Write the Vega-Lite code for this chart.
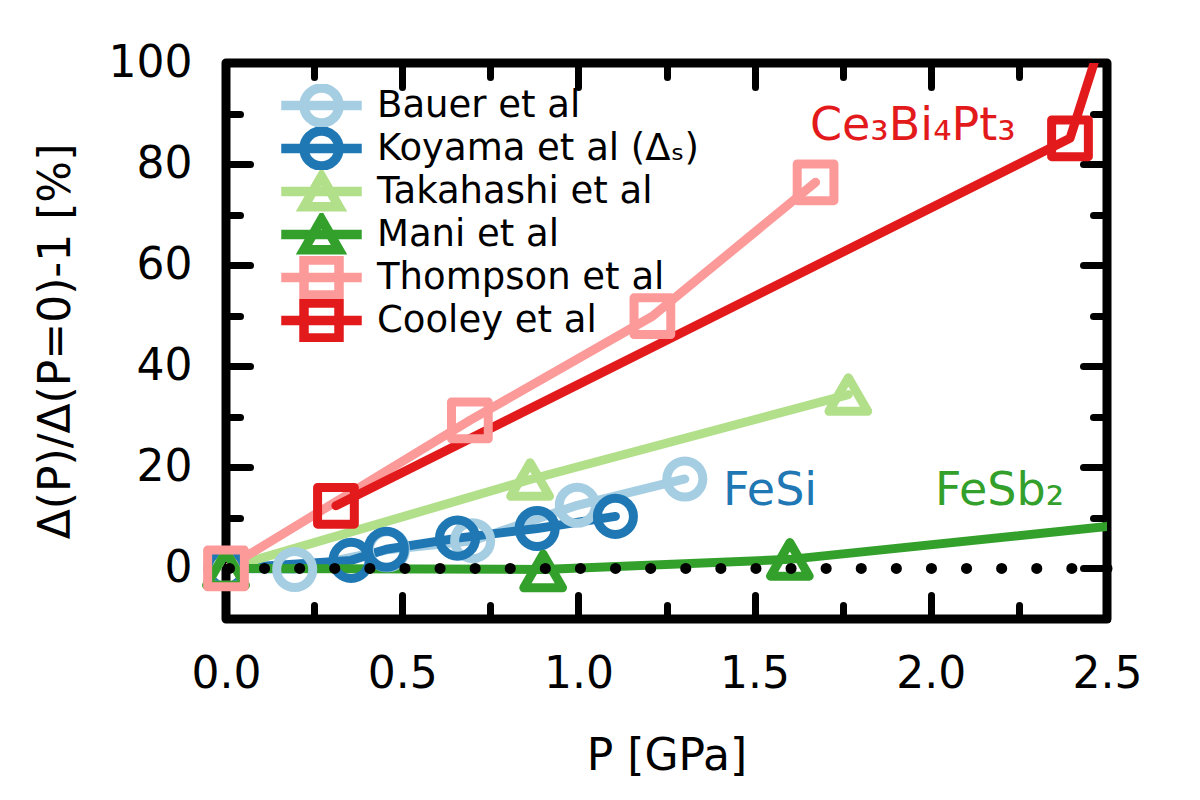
{
  "$schema": "https://vega.github.io/schema/vega-lite/v6.json",
  "width": 881,
  "height": 556,
  "autosize": {"type": "none"},
  "padding": {"left": 226, "top": 63, "right": 93, "bottom": 181},
  "background": "white",
  "config": {
    "view": {"stroke": "black", "strokeWidth": 9, "strokeJoin": "round"},
    "axis": {
      "domain": false, "grid": false, "ticks": true, "labelFlush": false,
      "tickColor": "black", "tickWidth": 7, "tickCap": "round",
      "labelFont": "DejaVu Sans", "labelFontSize": 44, "labelColor": "black",
      "titleFont": "DejaVu Sans", "titleFontSize": 44, "titleFontWeight": "normal", "titleColor": "black"
    },
    "text": {"font": "DejaVu Sans"}
  },
  "datasets": {
    "pts": [
      {"series": "Bauer et al", "P": 0, "v": 0},
      {"series": "Bauer et al", "P": 0.195, "v": -0.2},
      {"series": "Bauer et al", "P": 0.458, "v": 3.7},
      {"series": "Bauer et al", "P": 0.70, "v": 5.5},
      {"series": "Bauer et al", "P": 0.997, "v": 12.5},
      {"series": "Bauer et al", "P": 1.302, "v": 17.7},
      {"series": "Koyama et al (Δₛ)", "P": 0, "v": 0},
      {"series": "Koyama et al (Δₛ)", "P": 0.355, "v": 1.6},
      {"series": "Koyama et al (Δₛ)", "P": 0.455, "v": 3.8},
      {"series": "Koyama et al (Δₛ)", "P": 0.657, "v": 6.0},
      {"series": "Koyama et al (Δₛ)", "P": 0.883, "v": 7.9},
      {"series": "Koyama et al (Δₛ)", "P": 1.105, "v": 10.3},
      {"series": "Takahashi et al", "P": 0, "v": 0},
      {"series": "Takahashi et al", "P": 0.863, "v": 17.6},
      {"series": "Takahashi et al", "P": 1.766, "v": 34.4},
      {"series": "Mani et al", "P": 0, "v": 0},
      {"series": "Mani et al", "P": 0.9, "v": -0.5},
      {"series": "Mani et al", "P": 1.6, "v": 1.8},
      {"series": "Thompson et al", "P": 0, "v": 0},
      {"series": "Thompson et al", "P": 0.692, "v": 29.3},
      {"series": "Thompson et al", "P": 1.21, "v": 49.9},
      {"series": "Thompson et al", "P": 1.673, "v": 76.4},
      {"series": "Cooley et al", "P": 0.312, "v": 12.4},
      {"series": "Cooley et al", "P": 2.395, "v": 85.1}
    ],
    "curves": [
      {"series": "Bauer et al", "P": 0, "v": 0},
      {"series": "Bauer et al", "P": 0.195, "v": -0.2},
      {"series": "Bauer et al", "P": 0.458, "v": 3.7},
      {"series": "Bauer et al", "P": 0.70, "v": 5.5},
      {"series": "Bauer et al", "P": 0.997, "v": 12.5},
      {"series": "Bauer et al", "P": 1.302, "v": 17.7},
      {"series": "Koyama et al (Δₛ)", "P": 0, "v": 0},
      {"series": "Koyama et al (Δₛ)", "P": 0.355, "v": 1.6},
      {"series": "Koyama et al (Δₛ)", "P": 0.455, "v": 3.8},
      {"series": "Koyama et al (Δₛ)", "P": 0.657, "v": 6.0},
      {"series": "Koyama et al (Δₛ)", "P": 0.883, "v": 7.9},
      {"series": "Koyama et al (Δₛ)", "P": 1.105, "v": 10.3},
      {"series": "Takahashi et al", "P": 0, "v": 0},
      {"series": "Takahashi et al", "P": 0.863, "v": 17.6},
      {"series": "Takahashi et al", "P": 1.766, "v": 34.4},
      {"series": "Mani et al", "P": 0, "v": 0},
      {"series": "Mani et al", "P": 0.9, "v": -0.2},
      {"series": "Mani et al", "P": 1.6, "v": 1.8},
      {"series": "Mani et al", "P": 2.5, "v": 8.3},
      {"series": "Thompson et al", "P": 0, "v": 0},
      {"series": "Thompson et al", "P": 0.692, "v": 29.3},
      {"series": "Thompson et al", "P": 1.21, "v": 49.9},
      {"series": "Thompson et al", "P": 1.673, "v": 76.4},
      {"series": "Cooley et al", "P": 0.312, "v": 12.4},
      {"series": "Cooley et al", "P": 2.395, "v": 85.1},
      {"series": "Cooley et al", "P": 2.5, "v": 108}
    ],
    "notes": [
      {"series": "Koyama et al (Δₛ)", "P": 1.41, "v": 12.6, "label": "FeSi"},
      {"series": "Mani et al", "P": 2.012, "v": 12.6, "label": "FeSb₂"},
      {"series": "Cooley et al", "P": 1.657, "v": 84.7, "label": "Ce₃Bi₄Pt₃"}
    ],
    "zero": [{"v": 0}]
  },
  "resolve": {"axis": {"x": "independent", "y": "independent"}, "scale": {"color": "independent", "shape": "independent"}},
  "layer": [
    {
      "data": {"name": "curves"},
      "mark": {"type": "line", "strokeWidth": 9, "strokeCap": "round", "strokeJoin": "round", "clip": true},
      "encoding": {
        "x": {"field": "P", "type": "quantitative",
              "scale": {"domain": [0, 2.5], "nice": false, "zero": false},
              "axis": {"orient": "bottom", "values": [0, 0.5, 1, 1.5, 2, 2.5], "format": ".1f", "tickSize": -24, "labelPadding": 57, "title": "P [GPa]", "titlePadding": 38}},
        "y": {"field": "v", "type": "quantitative",
              "scale": {"domain": [-10, 100], "nice": false, "zero": false},
              "axis": {"orient": "left", "values": [0, 20, 40, 60, 80, 100], "format": "d", "tickSize": -24, "labelPadding": 58, "title": "Δ(P)/Δ(P=0)-1 [%]", "titlePadding": 30}},
        "color": {"field": "series", "type": "nominal", "legend": null,
                  "scale": {"domain": ["Bauer et al", "Koyama et al (Δₛ)", "Takahashi et al", "Mani et al", "Thompson et al", "Cooley et al"],
                            "range": ["#a6cee3", "#1f78b4", "#b2df8a", "#33a02c", "#fb9a99", "#e31a1c"]}},
        "detail": {"field": "series"}
      }
    },
    {
      "data": {"name": "pts"},
      "transform": [{"filter": {"field": "series", "oneOf": ["Bauer et al", "Koyama et al (Δₛ)"]}}],
      "mark": {"type": "point", "shape": "circle", "filled": false, "size": 1300, "strokeWidth": 9, "opacity": 1},
      "encoding": {
        "x": {"field": "P", "type": "quantitative", "axis": null},
        "y": {"field": "v", "type": "quantitative", "axis": null},
        "color": {"field": "series", "type": "nominal", "legend": null,
                  "scale": {"domain": ["Bauer et al", "Koyama et al (Δₛ)", "Takahashi et al", "Mani et al", "Thompson et al", "Cooley et al"],
                            "range": ["#a6cee3", "#1f78b4", "#b2df8a", "#33a02c", "#fb9a99", "#e31a1c"]}}
      }
    },
    {
      "data": {"name": "pts"},
      "transform": [{"filter": {"field": "series", "oneOf": ["Takahashi et al", "Mani et al"]}}],
      "mark": {"type": "point", "shape": "triangle-up", "filled": false, "size": 1500, "strokeWidth": 9, "strokeJoin": "round", "opacity": 1},
      "encoding": {
        "x": {"field": "P", "type": "quantitative", "axis": null},
        "y": {"field": "v", "type": "quantitative", "axis": null},
        "color": {"field": "series", "type": "nominal", "legend": null,
                  "scale": {"domain": ["Bauer et al", "Koyama et al (Δₛ)", "Takahashi et al", "Mani et al", "Thompson et al", "Cooley et al"],
                            "range": ["#a6cee3", "#1f78b4", "#b2df8a", "#33a02c", "#fb9a99", "#e31a1c"]}}
      }
    },
    {
      "data": {"name": "pts"},
      "transform": [{"filter": {"field": "series", "oneOf": ["Thompson et al", "Cooley et al"]}}],
      "mark": {"type": "point", "shape": "square", "filled": false, "size": 1350, "strokeWidth": 9, "strokeJoin": "round", "opacity": 1},
      "encoding": {
        "x": {"field": "P", "type": "quantitative", "axis": null},
        "y": {"field": "v", "type": "quantitative", "axis": null},
        "color": {"field": "series", "type": "nominal", "legend": null,
                  "scale": {"domain": ["Bauer et al", "Koyama et al (Δₛ)", "Takahashi et al", "Mani et al", "Thompson et al", "Cooley et al"],
                            "range": ["#a6cee3", "#1f78b4", "#b2df8a", "#33a02c", "#fb9a99", "#e31a1c"]}}
      }
    },
    {
      "data": {"name": "notes"},
      "mark": {"type": "text", "align": "left", "baseline": "alphabetic", "fontSize": 46, "font": "DejaVu Sans"},
      "encoding": {
        "x": {"field": "P", "type": "quantitative", "axis": null},
        "y": {"field": "v", "type": "quantitative", "axis": null},
        "text": {"field": "label"},
        "color": {"field": "series", "type": "nominal", "legend": null,
                  "scale": {"domain": ["Bauer et al", "Koyama et al (Δₛ)", "Takahashi et al", "Mani et al", "Thompson et al", "Cooley et al"],
                            "range": ["#a6cee3", "#1f78b4", "#b2df8a", "#33a02c", "#fb9a99", "#e31a1c"]}}
      }
    },
    {
      "data": {"name": "pts"},
      "transform": [{"filter": "false"}],
      "mark": {"type": "point", "filled": false, "strokeWidth": 9, "opacity": 1},
      "encoding": {
        "x": {"field": "P", "type": "quantitative",
              "axis": {"orient": "top", "values": [0, 0.5, 1, 1.5, 2, 2.5], "tickSize": -24, "labels": false, "title": null}},
        "y": {"field": "v", "type": "quantitative",
              "axis": {"orient": "right", "values": [0, 20, 40, 60, 80, 100], "tickSize": -24, "labels": false, "title": null}},
        "color": {"field": "series", "type": "nominal",
                  "scale": {"domain": ["Bauer et al", "Koyama et al (Δₛ)", "Takahashi et al", "Mani et al", "Thompson et al", "Cooley et al"],
                            "range": ["#a6cee3", "#1f78b4", "#b2df8a", "#33a02c", "#fb9a99", "#e31a1c"]},
                  "legend": {"orient": "none", "legendX": 48, "legendY": 21, "title": null, "padding": 0,
                             "labelFont": "DejaVu Sans", "labelFontSize": 37, "labelColor": "black", "labelLimit": 600,
                             "symbolSize": 1225, "symbolStrokeWidth": 9.5, "symbolOffset": 25, "labelOffset": 33,
                             "rowPadding": 0, "clipHeight": 43, "gridAlign": "all"}},
        "shape": {"field": "series", "type": "nominal",
                  "scale": {"domain": ["Bauer et al", "Koyama et al (Δₛ)", "Takahashi et al", "Mani et al", "Thompson et al", "Cooley et al"],
                            "range": [
                              "M-2.3,0H2.3M1,0A1,1,0,1,1,-1,0A1,1,0,1,1,1,0Z",
                              "M-2.3,0H2.3M1,0A1,1,0,1,1,-1,0A1,1,0,1,1,1,0Z",
                              "M-2.3,0H2.3M0,-0.866L1,0.866L-1,0.866Z",
                              "M-2.3,0H2.3M0,-0.866L1,0.866L-1,0.866Z",
                              "M-2.3,0H2.3M-1,-1H1V1H-1Z",
                              "M-2.3,0H2.3M-1,-1H1V1H-1Z"]},
                  "legend": {"orient": "none", "legendX": 48, "legendY": 21, "title": null, "padding": 0,
                             "labelFont": "DejaVu Sans", "labelFontSize": 37, "labelColor": "black", "labelLimit": 600,
                             "symbolSize": 1225, "symbolStrokeWidth": 9.5, "symbolOffset": 25, "labelOffset": 33,
                             "rowPadding": 0, "clipHeight": 43, "gridAlign": "all"}}
      }
    },
    {
      "data": {"name": "pts"},
      "transform": [{"filter": "false"}],
      "mark": {"type": "point"},
      "encoding": {
        "x": {"field": "P", "type": "quantitative",
              "axis": {"orient": "bottom", "values": [0.25, 0.75, 1.25, 1.75, 2.25], "tickSize": -14, "labels": false, "title": null}},
        "y": {"field": "v", "type": "quantitative",
              "axis": {"orient": "left", "values": [-10, 10, 30, 50, 70, 90], "tickSize": -14, "labels": false, "title": null}}
      }
    },
    {
      "data": {"name": "pts"},
      "transform": [{"filter": "false"}],
      "mark": {"type": "point"},
      "encoding": {
        "x": {"field": "P", "type": "quantitative",
              "axis": {"orient": "top", "values": [0.25, 0.75, 1.25, 1.75, 2.25], "tickSize": -14, "labels": false, "title": null}},
        "y": {"field": "v", "type": "quantitative",
              "axis": {"orient": "right", "values": [-10, 10, 30, 50, 70, 90], "tickSize": -14, "labels": false, "title": null}}
      }
    },
    {
      "data": {"name": "zero"},
      "mark": {"type": "rule", "color": "black", "strokeWidth": 11, "strokeCap": "round", "strokeDash": [0.1, 35]},
      "encoding": {"y": {"field": "v", "type": "quantitative", "axis": null}}
    }
  ]
}
